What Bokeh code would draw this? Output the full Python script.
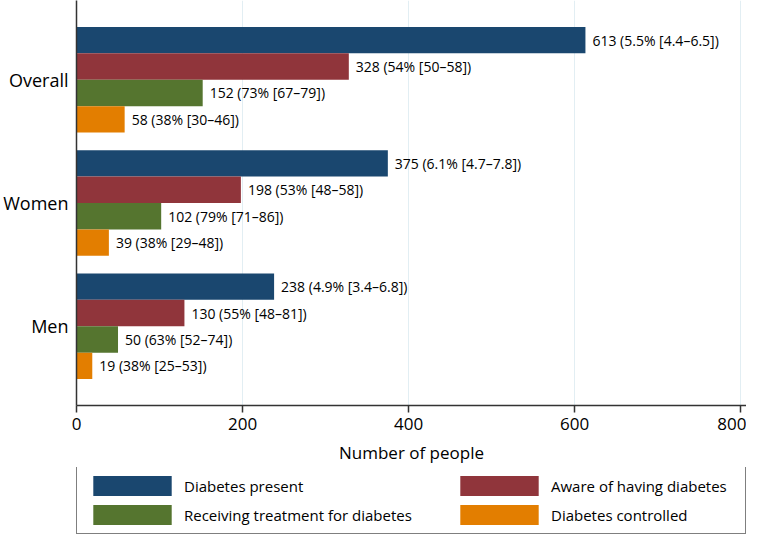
from bokeh.plotting import figure
from bokeh.layouts import column
from bokeh.models import ColumnDataSource, FixedTicker, Legend, LegendItem, Range1d
from bokeh.core.properties import value
from bokeh.embed import file_html
from bokeh.resources import INLINE

groups = ["Overall", "Women", "Men"]
series = ["Diabetes present", "Aware of having diabetes",
          "Receiving treatment for diabetes", "Diabetes controlled"]
present = [613, 375, 238]
aware = [328, 198, 130]
treated = [152, 102, 50]
controlled = [58, 39, 19]
present_lbl = ["613 (5.5% [4.4\u20136.5])", "375 (6.1% [4.7\u20137.8])", "238 (4.9% [3.4\u20136.8])"]
aware_lbl = ["328 (54% [50\u201358])", "198 (53% [48\u201358])", "130 (55% [48\u201381])"]
treated_lbl = ["152 (73% [67\u201379])", "102 (79% [71\u201386])", "50 (63% [52\u201374])"]
controlled_lbl = ["58 (38% [30\u201346])", "39 (38% [29\u201348])", "19 (38% [25\u201353])"]
x_ticks = [0, 200, 400, 600, 800]
colors = ["#1a476f", "#90353b", "#55752f", "#e37e00"]

values = [present, aware, treated, controlled]
labels = [present_lbl, aware_lbl, treated_lbl, controlled_lbl]

FONT = "Open Sans"
bar_h = 0.214
group_pos = [len(groups) - 1 - i for i in range(len(groups))]  # Overall on top
offsets = [1.5, 0.5, -0.5, -1.5]

p = figure(width=746, height=467, output_backend="svg", toolbar_location=None,
           x_range=Range1d(0, 807), y_range=Range1d(-0.643, 2.643),
           min_border_top=0, min_border_right=0, min_border_bottom=62,
           min_border_left=0, outline_line_color=None)

renderers = []
for k in range(4):
    ys = [g + offsets[k] * bar_h for g in group_pos]
    src = ColumnDataSource(dict(y=ys, x=values[k], lbl=labels[k]))
    r = p.hbar(y="y", left=0, right="x", height=bar_h, source=src,
               fill_color=colors[k], line_color=None)
    renderers.append(r)
    p.text(x="x", y="y", text="lbl", source=src, x_offset=7,
           text_baseline="middle", text_align="left",
           text_font=value(FONT), text_font_size=value("14px"), text_color="black")

# axes
p.xaxis.ticker = FixedTicker(ticks=x_ticks)
p.xaxis.axis_label = "Number of people"
p.xaxis.axis_label_text_font = FONT
p.xaxis.axis_label_text_font_size = "17px"
p.xaxis.axis_label_text_font_style = "normal"
p.xaxis.axis_label_text_color = "black"
p.xaxis.axis_label_standoff = 8
p.xaxis.major_label_text_font = FONT
p.xaxis.major_label_text_font_size = "17px"
p.xaxis.major_label_text_color = "black"
p.xaxis.major_label_standoff = 5
p.xaxis.major_tick_out = 7
p.xaxis.major_tick_in = 0
p.xaxis.minor_tick_out = 0
p.xaxis.minor_tick_in = 0
p.xaxis.axis_line_color = "#333333"
p.xaxis.axis_line_width = 1.5
p.xaxis.major_tick_line_color = "#333333"
p.xaxis.major_tick_line_width = 1.5

p.yaxis.ticker = FixedTicker(ticks=group_pos)
p.yaxis.major_label_overrides = {g: name for g, name in zip(group_pos, groups)}
p.yaxis.major_label_text_font = FONT
p.yaxis.major_label_text_font_size = "18px"
p.yaxis.major_label_text_color = "black"
p.yaxis.major_label_standoff = 8
p.yaxis.major_tick_out = 0
p.yaxis.major_tick_in = 0
p.yaxis.minor_tick_out = 0
p.yaxis.minor_tick_in = 0
p.yaxis.axis_line_color = "#333333"
p.yaxis.axis_line_width = 1.5

p.xgrid.ticker = FixedTicker(ticks=x_ticks)
p.xgrid.grid_line_color = "#e2eef3"
p.xgrid.grid_line_width = 1
p.ygrid.grid_line_color = None

# legend figure below the chart (its frame is aligned with the chart's frame)
lf = figure(width=746, height=68, output_backend="svg", toolbar_location=None,
            x_range=Range1d(0, 1), y_range=Range1d(0, 1),
            min_border_top=0, min_border_right=0, min_border_bottom=0,
            min_border_left=0, outline_line_color=None)
lf.axis.visible = False
lf.grid.visible = False
offscreen = ColumnDataSource(dict(y=[-10], x=[1]))
dummies = [lf.hbar(y="y", left=0, right="x", height=0.1, source=offscreen,
                   fill_color=c, line_color=None) for c in colors]

common = dict(orientation="vertical", glyph_width=98, glyph_height=25,
              label_standoff=3, spacing=4, padding=6, margin=0,
              label_text_font=FONT, label_text_font_size="15px",
              label_text_color="black", label_height=25,
              label_text_baseline="middle")

legend1 = Legend(items=[LegendItem(label=series[0], renderers=[dummies[0]]),
                        LegendItem(label=series[2], renderers=[dummies[2]])],
                 location=(0, 1), label_width=555,
                 border_line_color="black", border_line_width=1,
                 background_fill_color="white", background_fill_alpha=1, **common)
legend2 = Legend(items=[LegendItem(label=series[1], renderers=[dummies[1]]),
                        LegendItem(label=series[3], renderers=[dummies[3]])],
                 location=(374, 8), label_width=100,
                 border_line_color=None, background_fill_alpha=0, **common)
lf.add_layout(legend1, "center")
lf.add_layout(legend2, "center")

layout = column(p, lf, spacing=0)
open("out.html", "w").write(file_html(layout, INLINE))
